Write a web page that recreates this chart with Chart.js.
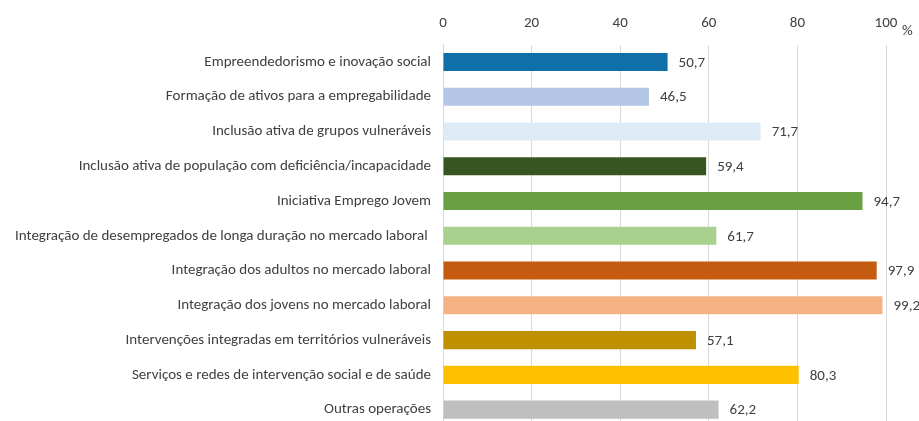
<!DOCTYPE html>
<html><head><meta charset="utf-8">
<script src="https://cdn.jsdelivr.net/npm/chart.js@4/dist/chart.umd.min.js"></script>
<style>html,body{margin:0;padding:0;overflow:hidden;background:#fff}</style>
</head><body><canvas id="c" width="919" height="427"></canvas>
<script>
const categories = [
  "Empreendedorismo e inovação social",
  "Formação de ativos para a empregabilidade",
  "Inclusão ativa de grupos vulneráveis",
  "Inclusão ativa de população com deficiência/incapacidade",
  "Iniciativa Emprego Jovem",
  "Integração de desempregados de longa duração no mercado laboral ",
  "Integração dos adultos no mercado laboral",
  "Integração dos jovens no mercado laboral",
  "Intervenções integradas em territórios vulneráveis",
  "Serviços e redes de intervenção social e de saúde",
  "Outras operações"
];
const values = [50.7, 46.5, 71.7, 59.4, 94.7, 61.7, 97.9, 99.2, 57.1, 80.3, 62.2];
const colors = ["#0F6FA9","#B4C7E7","#DEEBF7","#375623","#6AA042","#A9D18E","#C55A11","#F4B183","#BF9000","#FFC000","#BFBFBF"];
const xTicks = [0, 20, 40, 60, 80, 100];
const unitLabel = "%";

const FONT = "Carlito, Lato, 'Open Sans', sans-serif";
const TXT = "#404040";
const FS = 15;

const labelsPlugin = {
  id: 'vals',
  afterDatasetsDraw(chart) {
    const ctx = chart.ctx;
    const meta = chart.getDatasetMeta(0);
    ctx.save();
    ctx.font = FS + "px " + FONT;
    ctx.fillStyle = TXT;
    ctx.textBaseline = "middle";
    ctx.textAlign = "left";
    meta.data.forEach((bar, i) => {
      ctx.fillText(values[i].toFixed(1).replace('.', ','), bar.x + 11, bar.y + 1);
    });
    const xs = chart.scales.x;
    ctx.fillText(unitLabel, xs.getPixelForValue(100) + 16, 31);
    ctx.restore();
  }
};

new Chart(document.getElementById('c'), {
  type: 'bar',
  data: { labels: categories, datasets: [{ data: values, backgroundColor: colors, barPercentage: 0.52, categoryPercentage: 1 }] },
  options: {
    indexAxis: 'y',
    responsive: false,
    animation: false,
    layout: { padding: { left: 0, right: 33, top: 0, bottom: 0 } },
    plugins: { legend: { display: false }, tooltip: { enabled: false } },
    scales: {
      x: {
        position: 'top', min: 0, max: 100,
        afterBuildTicks(s) { s.ticks = xTicks.map(v => ({ value: v })); },
        afterFit(s) { s.height = 44.6; s.paddingLeft = 0; s.paddingRight = 0; },
        ticks: { padding: 12, color: TXT, font: { family: FONT, size: FS } },
        grid: { color: '#D9D9D9', drawTicks: false },
        border: { display: false }
      },
      y: {
        afterFit(s) { s.width = 443; s.paddingTop = 0; s.paddingBottom = 0; },
        ticks: { padding: 12, color: TXT, font: { family: FONT, size: FS } },
        grid: { display: false, drawTicks: false },
        border: { display: true, color: '#D9D9D9' }
      }
    }
  },
  plugins: [labelsPlugin]
});
</script></body></html>
